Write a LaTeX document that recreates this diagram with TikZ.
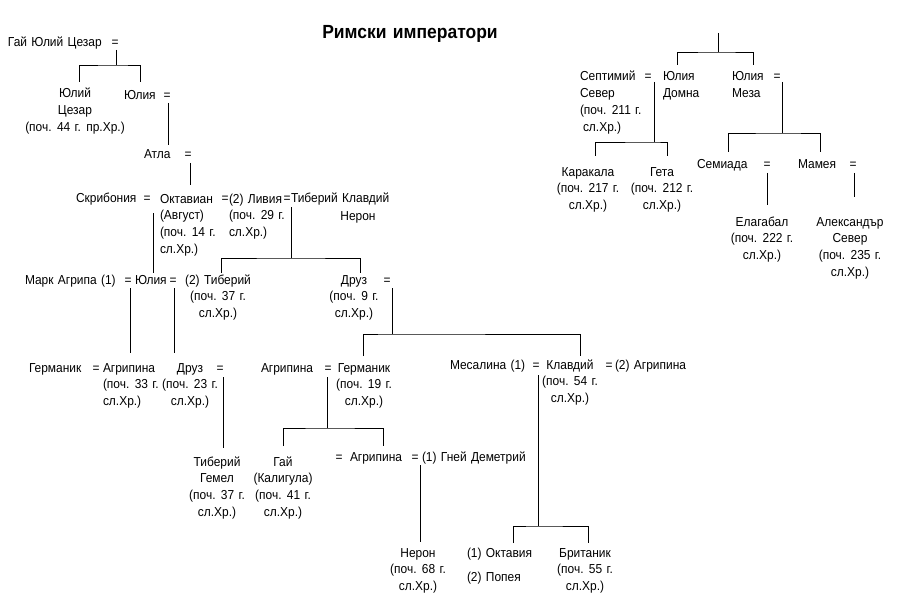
\documentclass[tikz,border=0pt]{standalone}
\usepackage{fontspec}
\setmainfont[FakeStretch=0.92,WordSpace=1.3]{Liberation Sans}
\newcommand{\fstrut}{\rule{0pt}{10pt}}
\begin{document}
\begin{tikzpicture}[x=1pt,y=-1pt,
  every node/.style={inner sep=0pt,outer sep=0pt,font=\fontsize{13}{16.8}\selectfont},
  nm/.style={anchor=base west},
  nb/.style={anchor=base},
  ml/.style={anchor=north west,align=left},
  mc/.style={anchor=north,align=center},
  eq/.style={anchor=base},
  ln/.style={line width=0.9pt}]
\useasboundingbox (0,0) rectangle (900,607);

\node[anchor=base,font=\fontsize{19}{22}\selectfont\bfseries] (title) at (410,39) {Римски императори};

% ---- left tree ----
\node[nm] (gjc) at (8,47) {Гай Юлий Цезар};
\node[eq] (e1) at (115,47) {=};
\node[mc] (jc) at (75,88) {\fstrut Юлий\\Цезар\\(поч. 44 г. пр.Хр.)};
\node[nm] (ju1) at (124,100) {Юлия};
\node[eq] (e2) at (167,100) {=};
\node[nm] (atla) at (144,159) {Атла};
\node[eq] (e3) at (188,159) {=};
\node[nm] (skr) at (76,203) {Скрибония};
\node[eq] (e4) at (147,203) {=};
\node[ml] (okt) at (160,193) {\fstrut Октавиан\\(Август)\\(поч. 14 г.\\сл.Хр.)};
\node[eq] (e5) at (225,203) {=};
\node[ml] (liv) at (229,193) {\fstrut(2) Ливия\\(поч. 29 г.\\сл.Хр.)};
\node[eq] (e6) at (287,203) {=};
\node[nm] (tkn) at (291,203) {Тиберий Клавдий};
\node[nb] (ner1) at (358,220) {Нерон};

\node[nm] (mag) at (25,284) {Марк Агрипа (1)};
\node[eq] (e7) at (128,284) {=};
\node[nm] (ju2) at (135,284) {Юлия};
\node[eq] (e8) at (173,284) {=};
\node[mc] (tib) at (218,274) {\fstrut(2) Тиберий\\(поч. 37 г.\\сл.Хр.)};
\node[mc] (dr1) at (354,274) {\fstrut Друз\\(поч. 9 г.\\сл.Хр.)};
\node[eq] (e9) at (387,284) {=};

\node[nm] (ger1) at (29,372) {Германик};
\node[eq] (e10) at (96,372) {=};
\node[ml] (agr1) at (103,362) {\fstrut Агрипина\\(поч. 33 г.\\сл.Хр.)};
\node[mc] (dr2) at (190,362) {\fstrut Друз\\(поч. 23 г.\\сл.Хр.)};
\node[eq] (e11) at (220,372) {=};
\node[nm] (agr2) at (261,372) {Агрипина};
\node[eq] (e12) at (328,372) {=};
\node[mc] (ger2) at (364,362) {\fstrut Германик\\(поч. 19 г.\\сл.Хр.)};
\node[nm] (mes) at (450,369) {Месалина (1)};
\node[eq] (e13) at (536,369) {=};
\node[mc] (kla) at (570,359) {\fstrut Клавдий\\(поч. 54 г.\\сл.Хр.)};
\node[eq] (e14) at (609,369) {=};
\node[nm] (agr3) at (615,369) {(2) Агрипина};

\node[mc] (tge) at (217,456) {\fstrut Тиберий\\Гемел\\(поч. 37 г.\\сл.Хр.)};
\node[mc] (gaj) at (283,456) {\fstrut Гай\\(Калигула)\\(поч. 41 г.\\сл.Хр.)};
\node[eq] (e15) at (339,461) {=};
\node[nm] (agr4) at (350,461) {Агрипина};
\node[eq] (e16) at (415,461) {=};
\node[nm] (gnd) at (422,461) {(1) Гней Деметрий};

\node[mc] (ner2) at (418,547) {\fstrut Нерон\\(поч. 68 г.\\сл.Хр.)};
\node[nm] (okv) at (467,557) {(1) Октавия};
\node[nm] (pop) at (467,581) {(2) Попея};
\node[mc] (bri) at (585,547) {\fstrut Британик\\(поч. 55 г.\\сл.Хр.)};

% ---- right tree ----
\node[ml] (sep) at (580,71) {\fstrut Септимий\\Север\\(поч. 211 г.\\\hspace*{3pt}сл.Хр.)};
\node[eq] (e17) at (648,81) {=};
\node[ml] (jdo) at (663,71) {\fstrut Юлия\\Домна};
\node[ml] (jme) at (732,71) {\fstrut Юлия\\Меза};
\node[eq] (e18) at (777,81) {=};
\node[mc] (kar) at (588,166) {\fstrut Каракала\\(поч. 217 г.\\сл.Хр.)};
\node[mc] (get) at (662,166) {\fstrut Гета\\(поч. 212 г.\\сл.Хр.)};
\node[nm] (sem) at (697,169) {Семиада};
\node[eq] (e19) at (767,169) {=};
\node[nm] (mam) at (798,169) {Мамея};
\node[eq] (e20) at (853,169) {=};
\node[mc] (ela) at (762,216) {\fstrut Елагабал\\(поч. 222 г.\\сл.Хр.)};
\node[mc] (ale) at (850,216) {\fstrut Александър\\Север\\(поч. 235 г.\\сл.Хр.)};

% ---- connector points ----
\coordinate (a1) at (116,50);  \coordinate (a2) at (116,65);
\coordinate (a3) at (79,82);   \coordinate (a4) at (140,82);
\coordinate (b1) at (168,103); \coordinate (b2) at (168,145);
\coordinate (c1) at (190,163); \coordinate (c2) at (190,185);
\coordinate (d1) at (153,213); \coordinate (d2) at (153,273);
\coordinate (f1) at (291,207); \coordinate (f2) at (291,258);
\coordinate (f3) at (221,273); \coordinate (f4) at (360,273);
\coordinate (g1) at (130,288); \coordinate (g2) at (130,353);
\coordinate (h1) at (174,288); \coordinate (h2) at (174,353);
\coordinate (i1) at (392,288); \coordinate (i2) at (392,334);
\coordinate (i3) at (363,356); \coordinate (i4) at (580,356);
\coordinate (k1) at (223,377); \coordinate (k2) at (223,448);
\coordinate (m1) at (327,377); \coordinate (m2) at (327,428);
\coordinate (m3) at (283,446); \coordinate (m4) at (383,446);
\coordinate (n1) at (538,375); \coordinate (n2) at (538,526);
\coordinate (n3) at (513,543); \coordinate (n4) at (588,543);
\coordinate (o1) at (420,465); \coordinate (o2) at (420,542);
\coordinate (r1) at (718,33);  \coordinate (r2) at (718,52);
\coordinate (r3) at (677,65);  \coordinate (r4) at (753,65);
\coordinate (s1) at (654,82);  \coordinate (s2) at (654,142);
\coordinate (s3) at (595,156); \coordinate (s4) at (667,156);
\coordinate (t1) at (782,82);  \coordinate (t2) at (782,133);
\coordinate (t3) at (728,152); \coordinate (t4) at (820,152);
\coordinate (u1) at (767,173); \coordinate (u2) at (767,205);
\coordinate (v1) at (854,173); \coordinate (v2) at (854,197);

% ---- connectors ----
\draw[ln] (a1) -- (a2);  \draw[ln] (a3) |- (a2) -| (a4);
\draw[ln] (b1) -- (b2);
\draw[ln] (c1) -- (c2);
\draw[ln] (d1) -- (d2);
\draw[ln] (f1) -- (f2);  \draw[ln] (f3) |- (f2) -| (f4);
\draw[ln] (g1) -- (g2);
\draw[ln] (h1) -- (h2);
\draw[ln] (i1) -- (i2);  \draw[ln] (i3) |- (i2) -| (i4);
\draw[ln] (k1) -- (k2);
\draw[ln] (m1) -- (m2);  \draw[ln] (m3) |- (m2) -| (m4);
\draw[ln] (n1) -- (n2);  \draw[ln] (n3) |- (n2) -| (n4);
\draw[ln] (o1) -- (o2);
\draw[ln] (r1) -- (r2);  \draw[ln] (r3) |- (r2) -| (r4);
\draw[ln] (s1) -- (s2);  \draw[ln] (s3) |- (s2) -| (s4);
\draw[ln] (t1) -- (t2);  \draw[ln] (t3) |- (t2) -| (t4);
\draw[ln] (u1) -- (u2);
\draw[ln] (v1) -- (v2);
\end{tikzpicture}
\end{document}
